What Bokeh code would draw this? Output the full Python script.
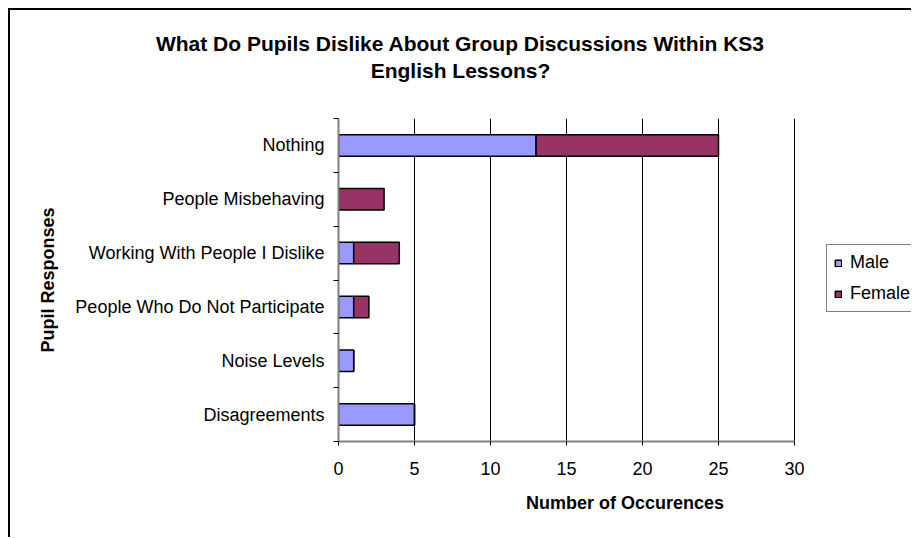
from bokeh.plotting import figure
from bokeh.layouts import column
from bokeh.models import (ColumnDataSource, Range1d, LinearAxis,
                          FixedTicker, Legend, LegendItem, Title)
from bokeh.embed import file_html
from bokeh.resources import INLINE

# ---- data ----
categories = ["Disagreements", "Noise Levels", "People Who Do Not Participate",
              "Working With People I Dislike", "People Misbehaving", "Nothing"]
male = [5, 1, 1, 1, 0, 13]
female = [0, 0, 1, 3, 3, 12]
series = ["Male", "Female"]
colors = ["#9999FF", "#993366"]
x_ticks = [0, 5, 10, 15, 20, 25, 30]
x_max = 30
title_lines = ["What Do Pupils Dislike About Group Discussions Within KS3", "English Lessons?"]
x_title = "Number of Occurences"
y_title = "Pupil Responses"

FONT = "Liberation Sans"
AXIS_GRAY = "#808080"

# ---- layout (pixels) ----
W, H = 901, 527              # canvas
LEFT, TOP, BOTTOM = 328, 108, 96
PLOT_W = 456                 # width of the 0..30 chart area
frame_w = W - LEFT
TITLE_PX = 21
TITLE_CENTER = 122           # title centre, px right of the chart's left edge
# Arial/Liberation Sans Bold advance widths (per 1000 em) for measuring titles
_BW = {' ': 278, '?': 611, '3': 556, 'A': 722, 'D': 722, 'E': 667, 'G': 778, 'K': 722,
       'L': 611, 'P': 667, 'S': 667, 'W': 944, 'a': 556, 'b': 611, 'c': 556, 'e': 556,
       'g': 611, 'h': 611, 'i': 278, 'k': 556, 'l': 278, 'n': 611, 'o': 611, 'p': 611,
       'r': 389, 's': 556, 't': 333, 'u': 611}


def text_width(s, px):
    return sum(_BW.get(ch, 600) for ch in s) * px / 1000.0


n = len(categories)
slot_centers = [i + 0.5 for i in range(n)]
slot_edges = list(range(n + 1))

source = ColumnDataSource(dict(pos=slot_centers, cat=categories, Male=male, Female=female))

p = figure(width=W, height=H,
           x_range=Range1d(0, x_max * frame_w / PLOT_W),
           y_range=Range1d(0, n),
           y_axis_location=None,
           output_backend="svg", toolbar_location=None,
           min_border_left=LEFT, min_border_right=0,
           min_border_top=TOP, min_border_bottom=BOTTOM)
p.outline_line_color = None
p.background_fill_color = "white"
p.border_fill_color = "white"
p.xgrid.visible = False
p.ygrid.visible = False

# vertical gridlines (limited to the chart area)
grid_x = [t for t in x_ticks if t > 0]
p.segment(x0=grid_x, y0=[0] * len(grid_x), x1=grid_x, y1=[n] * len(grid_x),
          line_color="black", line_width=1)

renderers = p.hbar_stack(series, y="pos", height=0.4, fill_color=colors,
                         line_color="black", line_width=1.5, source=source)

# x axis
p.xaxis.bounds = (0, x_max)
p.xaxis.ticker = FixedTicker(ticks=x_ticks)
p.xaxis.axis_line_color = AXIS_GRAY
p.xaxis.axis_line_width = 2
p.xaxis.major_tick_line_color = "black"
p.xaxis.major_tick_out = 4
p.xaxis.major_tick_in = 0
p.xaxis.minor_tick_line_color = None
p.xaxis.major_label_text_font = FONT
p.xaxis.major_label_text_font_size = "18px"
p.xaxis.major_label_text_color = "black"
p.xaxis.major_label_standoff = 16
p.xaxis.axis_label = x_title
p.xaxis.axis_label_text_font = FONT
p.xaxis.axis_label_text_font_size = "18px"
p.xaxis.axis_label_text_font_style = "bold"
p.xaxis.axis_label_text_color = "black"
p.xaxis.axis_label_standoff = 15

# y axis: tick marks at category boundaries (no labels)
tick_axis = LinearAxis(ticker=FixedTicker(ticks=slot_edges), bounds=(0, n),
                       major_label_overrides={e: "" for e in slot_edges},
                       axis_line_color=AXIS_GRAY, axis_line_width=2,
                       major_tick_line_color="black", major_tick_out=5, major_tick_in=0,
                       minor_tick_line_color=None, major_label_standoff=0)
p.add_layout(tick_axis, "left")

# y axis: category labels at slot centres
label_axis = LinearAxis(ticker=FixedTicker(ticks=slot_centers), bounds=(0, n),
                        major_label_overrides={c: t for c, t in zip(slot_centers, categories)},
                        axis_line_color=None, major_tick_line_color=None,
                        minor_tick_line_color=None,
                        major_tick_out=0, major_tick_in=0,
                        major_label_standoff=9,
                        major_label_text_font=FONT, major_label_text_font_size="18px",
                        major_label_text_color="black",
                        axis_label=y_title, axis_label_text_font=FONT,
                        axis_label_text_font_size="18px", axis_label_text_font_style="bold",
                        axis_label_text_color="black", axis_label_standoff=14)
p.add_layout(label_axis, "left")

# legend
legend = Legend(items=[LegendItem(label=s, renderers=[r]) for s, r in zip(series, renderers)],
                location=(488, 129), orientation="vertical",
                border_line_color="black", border_line_width=1,
                background_fill_color="white", background_fill_alpha=1,
                label_text_font=FONT, label_text_font_size="18px", label_text_color="black",
                glyph_width=8, glyph_height=8, label_standoff=8,
                padding=7, spacing=10, margin=0, label_height=20)
p.add_layout(legend, "center")

# title: spacer nearest the chart, then line 2, then line 1
p.add_layout(Title(text=" ", text_font_size="20px", standoff=13), "above")
for line, standoff in [(title_lines[1], 0), (title_lines[0], 4)]:
    p.add_layout(Title(text=line, align="left",
                       offset=TITLE_CENTER - text_width(line, TITLE_PX) / 2,
                       text_font=FONT, text_font_size=f"{TITLE_PX}px", text_font_style="bold",
                       text_color="black", standoff=standoff, vertical_align="bottom"),
                 "above")

layout = column(p, styles={"margin-left": "8px", "margin-top": "8px", "vertical-align": "top",
                           "border-left": "2px solid black", "border-top": "2px solid black"})

open("out.html", "w").write(file_html(layout, INLINE))
